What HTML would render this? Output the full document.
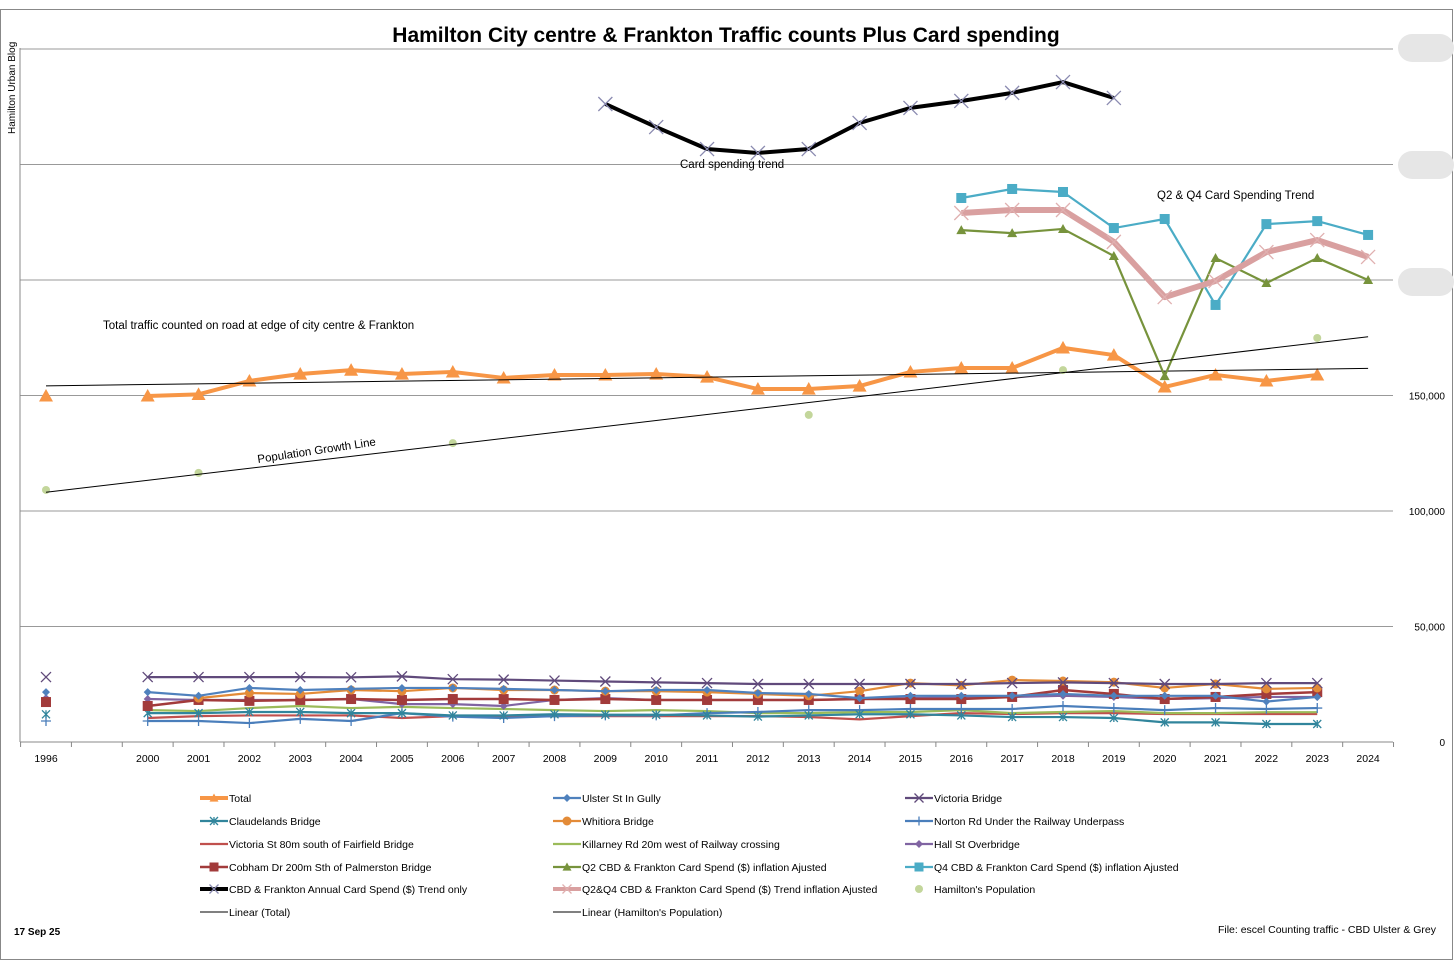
<!DOCTYPE html>
<html><head><meta charset="utf-8"><style>
body{margin:0;background:#fff;}
svg{display:block;font-family:"Liberation Sans",sans-serif;}
</style></head><body>
<svg id="c" width="1456" height="970" viewBox="0 0 1456 970">
<rect x="0.5" y="9.5" width="1452" height="950" fill="#fff" stroke="#888"/>
<text x="726" y="42" text-anchor="middle" font-size="21" font-weight="bold">Hamilton City centre &amp; Frankton Traffic counts Plus Card spending</text>
<text transform="translate(15,134) rotate(-90)" font-size="10">Hamilton Urban Blog</text>
<text x="14" y="935" font-size="10" font-weight="bold">17 Sep 25</text>
<text x="1436" y="933" font-size="10.5" text-anchor="end">File: escel Counting traffic - CBD Ulster &amp; Grey</text>
<g id="grid"></g><g id="series"></g><g id="legend"></g>
</svg>
<script>
const years=['1996','','2000','2001','2002','2003','2004','2005','2006','2007','2008','2009','2010','2011','2012','2013','2014','2015','2016','2017','2018','2019','2020','2021','2022','2023','2024'];
const yTicks=[0,50000,100000,150000,200000,250000,300000];
const yTickLabels=['0','50,000','100,000','150,000','','',''];
const N=null;
const total=[149800,N,149800,150500,156300,159300,161000,159300,160200,157600,158900,158900,159300,158000,152800,152800,154100,160200,161900,161900,170600,167500,153700,158900,156300,158900,N];
const ulster=[21600,N,21600,20000,23400,22500,23000,23400,23400,23000,22500,22000,22500,22500,21200,20800,19000,20000,20000,20000,20800,20000,20000,20000,17500,19500,N];
const victoriaBr=[28100,N,28100,28100,28100,28100,28000,28400,27200,27000,26600,26200,25800,25500,25100,25100,25100,25100,25100,25500,25800,25500,25100,25100,25500,25500,N];
const claudelands=[12000,N,12500,12500,13000,13000,12500,12500,11500,11500,12000,11800,11800,11500,11000,11500,12000,12000,11500,10800,10800,10400,8500,8500,7800,7800,N];
const whitiora=[N,N,N,19000,21200,20800,22500,22000,23400,22500,22500,22000,22000,21600,20800,20000,22000,25500,24500,26800,26400,25900,23400,25100,23000,23400,N];
const norton=[9100,N,9100,9100,8200,10000,9100,12500,11000,10400,11200,11500,11500,12500,13000,13800,13800,14300,14300,14300,15600,14700,13800,14700,14300,14700,N];
const victoriaSt=[11200,N,10400,11200,11500,11500,11500,10400,11200,10800,11200,11200,11200,11200,11200,10800,9800,11200,12500,12100,12500,12500,12100,12100,12100,12100,N];
const killarney=[13000,N,13800,13400,14700,15600,14700,15200,14700,14300,13800,13400,13800,13400,12500,12500,13000,13000,13800,12500,13000,13400,12500,12500,12900,12900,N];
const hall=[19000,N,18600,18200,18200,18200,18600,16400,16400,15600,18200,19000,18200,18200,18200,18200,18600,19000,19500,19500,20000,19500,18600,19000,19500,19500,N];
const cobham=[17300,N,15600,18200,17800,18200,18600,18200,18600,18600,18200,18600,18200,18200,18200,18200,18600,18600,18600,19500,22500,20800,18600,19500,20800,21600,N];
const q2=[N,N,N,N,N,N,N,N,N,N,N,N,N,N,N,N,N,N,221600,220300,222100,210400,158400,209500,198700,209500,200000];
const q4=[N,N,N,N,N,N,N,N,N,N,N,N,N,N,N,N,N,N,235500,239400,238100,222500,226400,189200,224200,225500,219500];
const cardAnnual=[N,N,N,N,N,N,N,N,N,N,N,276200,266200,256700,255000,256700,268000,274500,277500,281000,285700,278800,N,N,N,N,N];
const q2q4=[N,N,N,N,N,N,N,N,N,N,N,N,N,N,N,N,N,N,229000,230300,230300,216500,192600,199600,212100,217300,210000];
const population=[109100,N,N,116500,N,N,N,N,129400,N,N,N,N,N,N,141600,N,N,N,N,161000,N,N,N,N,174900,N];

const NS='http://www.w3.org/2000/svg';
const X0=46,DX=50.85,Y0=742,PX=115.5/50000;
const xs=i=>X0+i*DX, ys=v=>Y0-v*PX;
function mk(tag,attrs,parent){const e=document.createElementNS(NS,tag);for(const k in attrs)e.setAttribute(k,attrs[k]);parent.appendChild(e);return e;}
const grid=document.getElementById('grid'),ser=document.getElementById('series'),leg=document.getElementById('legend');
// gridlines & ticks
yTicks.forEach((t,i)=>{const y=ys(t);
 const l=mk('line',{x1:20,x2:1393,y1:y,y2:y,stroke:i==0?'#888':'#999','stroke-width':1},grid);
 
 
 if(yTickLabels[i]){const tx=mk('text',{x:1445,y:y+4,'font-size':10,'text-anchor':'end'},grid);tx.textContent=yTickLabels[i];
 
 }
});
const ax=mk('line',{x1:20,x2:20,y1:48,y2:742,stroke:'#888'},grid);


for(let i=0;i<=years.length;i++){const x=X0-DX/2+i*DX;mk('line',{x1:x,x2:x,y1:742,y2:747,stroke:'#888'},grid);}
years.forEach((yr,i)=>{if(!yr)return;const t=mk('text',{x:xs(i),y:762,'font-size':10.5,'text-anchor':'middle'},grid);t.textContent=yr;
 
 });
// blobs
[48,165,282].forEach(y=>{const b=mk('rect',{x:1398,y:y-14,width:56,height:28,rx:14,fill:'#e6e6e6'},grid);
 
 });
function marker(g,type,x,y,col,s){
 if(type=='tri')mk('polygon',{points:`${x},${y-s} ${x-s},${y+s*0.8} ${x+s},${y+s*0.8}`,fill:col},g);
 else if(type=='dia')mk('polygon',{points:`${x},${y-s} ${x+s},${y} ${x},${y+s} ${x-s},${y}`,fill:col},g);
 else if(type=='sq')mk('rect',{x:x-s,y:y-s,width:2*s,height:2*s,fill:col},g);
 else if(type=='circ')mk('circle',{cx:x,cy:y,r:s,fill:col},g);
 else if(type=='x'){mk('path',{d:`M${x-s},${y-s}L${x+s},${y+s}M${x-s},${y+s}L${x+s},${y-s}`,stroke:col,'stroke-width':1.3},g);}
 else if(type=='star'){mk('path',{d:`M${x-s},${y-s}L${x+s},${y+s}M${x-s},${y+s}L${x+s},${y-s}M${x},${y-s}L${x},${y+s}`,stroke:col,'stroke-width':1.3},g);}
 else if(type=='plus'){mk('path',{d:`M${x-s},${y}L${x+s},${y}M${x},${y-s}L${x},${y+s}`,stroke:col,'stroke-width':1.3},g);}
}
const S=[
 {n:'Total',d:total,c:'#f79646',w:4,m:'tri',ms:7,id:'series-total'},
 {n:'Ulster St In Gully',d:ulster,c:'#4f81bd',w:2.2,m:'dia',ms:4,id:'series-ulster'},
 {n:'Victoria Bridge',d:victoriaBr,c:'#604a7b',w:2.2,m:'x',ms:5,id:'series-victoria-bridge'},
 {n:'Claudelands Bridge',d:claudelands,c:'#31859c',w:2.2,m:'star',ms:4,id:'series-claudelands'},
 {n:'Whitiora Bridge',d:whitiora,c:'#e38b38',w:2.2,m:'circ',ms:4.5,id:'series-whitiora'},
 {n:'Norton Rd Under the Railway Underpass',d:norton,c:'#4a7ebb',w:2.2,m:'plus',ms:5,id:'series-norton'},
 {n:'Victoria St 80m south of Fairfield Bridge',d:victoriaSt,c:'#c0504d',w:2.2,m:null,id:'series-victoria-st'},
 {n:'Killarney Rd 20m west of Railway crossing',d:killarney,c:'#9bbb59',w:2.2,m:null,id:'series-killarney'},
 {n:'Hall St Overbridge',d:hall,c:'#8064a2',w:2.2,m:'dia',ms:4,id:'series-hall'},
 {n:'Cobham Dr 200m Sth of Palmerston Bridge',d:cobham,c:'#a23b3b',w:2.5,m:'sq',ms:5,id:'series-cobham'},
 {n:'Q2  CBD & Frankton Card Spend ($) inflation Ajusted',d:q2,c:'#77933c',w:2.2,m:'tri',ms:5,id:'series-q2'},
 {n:'Q4  CBD & Frankton Card Spend ($) inflation Ajusted',d:q4,c:'#4bacc6',w:2.2,m:'sq',ms:5,id:'series-q4'},
 {n:'CBD & Frankton Annual Card Spend ($) Trend only',d:cardAnnual,c:'#000',w:4,m:'x',ms:7,mc:'#8a8ab0',id:'series-card-annual'},
 {n:'Q2&Q4  CBD & Frankton Card Spend ($) Trend inflation Ajusted',d:q2q4,c:'#d9a0a0',w:6,m:'x',ms:7,mc:'#e0b0b0',id:'series-q2q4'},
 {n:"Hamilton's Population",d:population,c:'#c3d69b',w:0,m:'circ',ms:4,id:'series-population'},
];
function trend(d){let n=0,sx=0,sy=0,sxx=0,sxy=0;d.forEach((v,i)=>{if(v==null)return;n++;sx+=i;sy+=v;sxx+=i*i;sxy+=i*v;});const b=(n*sxy-sx*sy)/(n*sxx-sx*sx);return [b,(sy-b*sx)/n];}
function drawTrend(d,name){const [b,a]=trend(d);const l=mk('line',{x1:xs(0),y1:ys(a),x2:xs(26),y2:ys(a+b*26),stroke:'#000','stroke-width':1},ser);
 
 }
const order=[6,7,5,3,8,9,4,1,2,0,10,11,13,12,14];
order.forEach(k=>{const s=S[k];const g=mk('g',{},ser);
 
 
 if(s.w){let p='',pen=false;s.d.forEach((v,i)=>{if(v==null){pen=false;return;}p+=(pen?'L':'M')+xs(i)+','+ys(v);pen=true;});
  mk('path',{d:p,fill:'none',stroke:s.c,'stroke-width':s.w,'stroke-linejoin':'round'},g);}
 if(s.m)s.d.forEach((v,i)=>{if(v!=null)marker(g,s.m,xs(i),ys(v),s.mc||s.c,s.ms);});
 if(k==0)drawTrend(total,'trendline-total');
 if(k==14)drawTrend(population,'trendline-population');
});
// annotations
[['Card spending trend',680,168],['Q2 & Q4 Card Spending Trend',1157,199],['Total traffic counted on road at edge of city centre & Frankton',103,329]].forEach(a=>{const t=mk('text',{x:a[1],y:a[2],'font-size':11.5},ser);t.textContent=a[0];
 
 });
const pg=mk('text',{x:258,y:463,'font-size':11.5,transform:'rotate(-8.5 258 463)'},ser);pg.textContent='Population Growth Line';


// legend
const L=S.concat([{n:'Linear (Total)',c:'#000',w:1,m:null},{n:"Linear (Hamilton's Population)",c:'#000',w:1,m:null}]);
const colX=[200,553,905],rowY=[798,821,844,867,889,912];
L.forEach((s,i)=>{const x=colX[i%3],y=rowY[Math.floor(i/3)];const g=mk('g',{},leg);
 
 
 if(s.w)mk('line',{x1:x,x2:x+28,y1:y,y2:y,stroke:s.c,'stroke-width':Math.min(s.w,4)},g);
 if(s.m)marker(g,s.m,x+14,y,s.mc||s.c,Math.min(s.ms,4.5));
 const t=mk('text',{x:x+29,y:y+4,'font-size':10.5},g);t.textContent=s.n;});
</script>
</body></html>
